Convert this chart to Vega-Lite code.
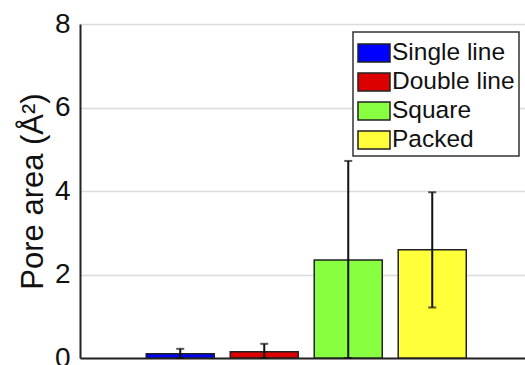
{
  "$schema": "https://vega.github.io/schema/vega-lite/v6.json",
  "width": 445,
  "height": 334,
  "autosize": {"type": "none"},
  "padding": {"left": 80, "top": 24, "right": 0, "bottom": 7},
  "background": "white",
  "data": {
    "values": [
      {"structure": "Single line", "area": 0.10, "lo": -0.02, "hi": 0.22},
      {"structure": "Double line", "area": 0.15, "lo": -0.04, "hi": 0.34},
      {"structure": "Square", "area": 2.35, "lo": -0.02, "hi": 4.72},
      {"structure": "Packed", "area": 2.59, "lo": 1.21, "hi": 3.97}
    ]
  },
  "config": {
    "font": "Liberation Sans",
    "view": {"stroke": null},
    "axis": {"labelFont": "Liberation Sans", "titleFont": "Liberation Sans"}
  },
  "encoding": {
    "x": {
      "field": "structure",
      "type": "nominal",
      "sort": ["Single line", "Double line", "Square", "Packed"],
      "scale": {"paddingInner": 0.19, "paddingOuter": 0.744, "align": 0.53},
      "axis": {"title": null, "labels": false, "ticks": false, "domainColor": "#222", "domainWidth": 2}
    }
  },
  "layer": [
    {
      "mark": {"type": "bar", "stroke": "#222", "strokeWidth": 1.5},
      "encoding": {
        "y": {
          "field": "area",
          "type": "quantitative",
          "scale": {"domain": [0, 8], "clamp": true, "nice": false},
          "axis": {
            "title": "Pore area (Å²)",
            "titleFontSize": 31,
            "titleFontWeight": "normal",
            "titleColor": "#111",
            "titlePadding": 5,
            "values": [0, 2, 4, 6, 8],
            "labelFontSize": 28,
            "labelColor": "#111",
            "labelPadding": 10,
            "ticks": false,
            "domainColor": "#222",
            "domainWidth": 2,
            "grid": true,
            "gridColor": "#dcdcdc",
            "gridWidth": 1.5
          }
        },
        "fill": {
          "field": "structure",
          "type": "nominal",
          "sort": ["Single line", "Double line", "Square", "Packed"],
          "scale": {
            "domain": ["Single line", "Double line", "Square", "Packed"],
            "range": ["#0000ff", "#dd0000", "#88ff40", "#ffff3a"]
          },
          "legend": {
            "title": null,
            "orient": "none",
            "legendX": 273,
            "legendY": 8,
            "strokeColor": "#333",
            "fillColor": "white",
            "padding": 4,
            "symbolType": "M-1,-0.56H1V0.56H-1Z",
            "symbolSize": 1024,
            "symbolStrokeColor": "#222",
            "symbolStrokeWidth": 1.5,
            "symbolOpacity": 1,
            "labelFontSize": 24.5,
            "labelColor": "#111",
            "labelOffset": 1,
            "rowPadding": -2.5,
            "encode": {"legend": {"update": {"strokeWidth": {"value": 1.5}}}}
          }
        }
      }
    },
    {
      "mark": {"type": "rule", "color": "#111", "strokeWidth": 2},
      "encoding": {
        "y": {"field": "lo", "type": "quantitative"},
        "y2": {"field": "hi"}
      }
    },
    {
      "mark": {"type": "tick", "color": "#111", "size": 8, "thickness": 2},
      "encoding": {"y": {"field": "hi", "type": "quantitative"}}
    },
    {
      "mark": {"type": "tick", "color": "#111", "size": 8, "thickness": 2},
      "encoding": {"y": {"field": "lo", "type": "quantitative"}}
    }
  ]
}
